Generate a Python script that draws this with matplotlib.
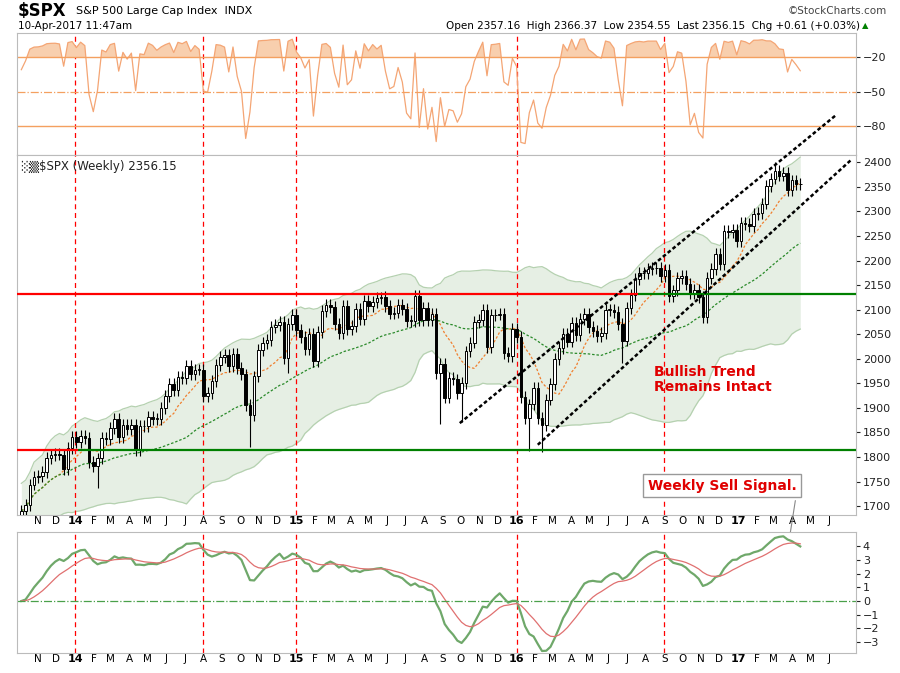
import numpy as np
import pandas as pd
import matplotlib.pyplot as plt
import matplotlib.dates as mdates
from matplotlib.lines import Line2D

# weekly closes of $SPX, Oct 2013 - Apr 2017
closes = [1690, 1703, 1744, 1759, 1761, 1770, 1798, 1804, 1806, 1805, 1775, 1818, 1841,
          1831, 1842, 1838, 1790, 1782, 1797, 1838, 1836, 1859, 1878, 1841, 1866, 1857,
          1865, 1815, 1864, 1863, 1881, 1878, 1878, 1900, 1924, 1949, 1936, 1963, 1961,
          1985, 1968, 1978, 1978, 1925, 1931, 1955, 1988, 2003, 2008, 1985, 2010, 1982,
          1968, 1906, 1886, 1964, 2018, 2032, 2039, 2064, 2068, 2075, 2002, 2071, 2089,
          2058, 2044, 2019, 2051, 1995, 2055, 2097, 2110, 2105, 2071, 2053, 2108, 2061,
          2067, 2102, 2081, 2117, 2108, 2116, 2123, 2126, 2107, 2092, 2094, 2110, 2101,
          2077, 2077, 2127, 2079, 2104, 2078, 2092, 1971, 1989, 1921, 1961, 1958, 1931,
          1951, 2015, 2033, 2075, 2079, 2099, 2023, 2089, 2090, 2092, 2012, 2005, 2061,
          2044, 1922, 1880, 1907, 1940, 1880, 1865, 1917, 1948, 1999, 2022, 2050, 2035,
          2073, 2048, 2081, 2092, 2065, 2057, 2047, 2052, 2099, 2099, 2096, 2071, 2037,
          2103, 2130, 2162, 2175, 2174, 2183, 2184, 2184, 2169, 2180, 2128, 2139, 2165,
          2168, 2153, 2133, 2141, 2126, 2085, 2164, 2182, 2213, 2192, 2260, 2258, 2263,
          2239, 2277, 2275, 2271, 2295, 2297, 2316, 2351, 2367, 2383, 2373, 2378, 2344,
          2363, 2355, 2356]
first_week = "2013-10-04"
wick = 12
# notable intraweek lows / highs
low_marks = {"2015-08-28": 1867, "2016-01-22": 1812, "2016-02-12": 1810, "2014-10-17": 1821,
             "2014-02-07": 1737, "2016-06-24": 1992, "2014-12-19": 1972, "2015-10-02": 1872}
high_marks = {"2017-03-03": 2401, "2015-05-22": 2135}

support = 1814
resistance = 2131
red_lines = ["2014-01-01", "2014-07-31", "2015-01-01", "2016-01-01", "2016-09-01"]
trend_lines = [(("2015-09-29", 1869), ("2017-06-12", 2496)),
               (("2016-02-05", 1825), ("2017-07-09", 2407))]

dates = pd.date_range(first_week, periods=len(closes), freq="7D")
c = pd.Series(closes, index=dates, dtype=float)
o = c.shift(1).fillna(c.iloc[0] - 15)
hi = np.maximum(o, c) + wick
lo = np.minimum(o, c) - wick
for d, v in low_marks.items():
    i = c.index.get_indexer([pd.Timestamp(d)], method="nearest")[0]
    lo.iloc[i] = v
for d, v in high_marks.items():
    i = c.index.get_indexer([pd.Timestamp(d)], method="nearest")[0]
    hi.iloc[i] = v

ma_fast = c.rolling(10, min_periods=1).mean()
ma_slow = c.rolling(40, min_periods=1).mean()
sd = c.rolling(40, min_periods=3).std().bfill()
bb_up = ma_slow + 2 * sd
bb_lo = ma_slow - 2 * sd

hh = hi.rolling(14, min_periods=1).max()
ll = lo.rolling(14, min_periods=1).min()
willr = (hh - c) / (hh - ll) * -100

ema12 = c.ewm(span=12, adjust=False).mean()
ema26 = c.ewm(span=26, adjust=False).mean()
ppo = (ema12 - ema26) / ema26 * 100 * 1.8
ppo_sig = ppo.ewm(span=9, adjust=False).mean()

fig = plt.figure(figsize=(9, 6.73), dpi=100)
L, W = 0.019, 0.932
ax_top = fig.add_axes([L, 0.7697, W, 0.181])
ax = fig.add_axes([L, 0.2348, W, 0.535], sharex=ax_top)
ax_bot = fig.add_axes([L, 0.030, W, 0.180], sharex=ax_top)

xmin, xmax = pd.Timestamp("2013-09-27"), pd.Timestamp("2017-07-15")
for a in (ax_top, ax, ax_bot):
    a.set_xlim(xmin, xmax)
    for s in a.spines.values():
        s.set_color("#bbbbbb")
    a.yaxis.tick_right()
    a.tick_params(axis="y", length=3, labelsize=8, colors="#222222", pad=2)
    a.tick_params(axis="x", length=0, pad=1)
    for d in red_lines:
        a.axvline(pd.Timestamp(d), color="red", lw=0.9, ls=(0, (4, 3)), zorder=1)

# top panel: Williams %R
ax_top.plot(dates, willr, color="#f4a574", lw=0.9)
ax_top.fill_between(dates, willr, -20, where=willr > -20, interpolate=True, color="#f8cfae", lw=0)
ax_top.axhline(-20, color="#f4a060", lw=1)
ax_top.axhline(-80, color="#f4a060", lw=1)
ax_top.axhline(-50, color="#f4a060", lw=0.9, ls="-.")
ax_top.set_ylim(-105, 1)
ax_top.set_yticks([-20, -50, -80])
ax_top.tick_params(axis="x", labelbottom=False)

# main panel
ax.fill_between(dates, bb_lo, bb_up, color="#e6efe4", lw=0, zorder=0)
ax.plot(dates, bb_up, color="#b5d1b0", lw=0.9, zorder=0.5)
ax.plot(dates, bb_lo, color="#b5d1b0", lw=0.9, zorder=0.5)
ax.plot(dates, ma_fast, color="#f08030", lw=0.9, ls=(0, (2, 1.5)), zorder=2)
ax.plot(dates, ma_slow, color="#2a8a2a", lw=0.9, ls=(0, (2, 1.5)), zorder=2)
bw = pd.Timedelta(days=4.2)
for d, op, cl, h, l in zip(dates, o, c, hi, lo):
    ax.vlines(d, l, h, color="black", lw=0.8, zorder=3)
    face = "white" if cl >= op else "black"
    ax.bar(d, abs(cl - op) or 1.5, bottom=min(op, cl), width=bw, color=face,
           edgecolor="black", lw=0.7, zorder=4)

switch = pd.Timestamp("2016-07-20")
ax.hlines(resistance, xmin, switch, color="red", lw=1.6, zorder=5)
ax.hlines(resistance, switch, xmax, color="green", lw=1.6, zorder=5)
ax.hlines(support, xmin, pd.Timestamp("2014-01-05"), color="red", lw=1.6, zorder=5)
ax.hlines(support, pd.Timestamp("2014-01-05"), xmax, color="green", lw=1.6, zorder=5)
for (d0, p0), (d1, p1) in trend_lines:
    ax.add_line(Line2D(mdates.date2num([pd.Timestamp(d0), pd.Timestamp(d1)]), [p0, p1],
                       color="black", lw=1.8, ls=(0, (1.5, 1)), clip_on=False, zorder=6))
ax.set_ylim(1682, 2415)
ax.set_yticks(range(1700, 2401, 50))
ax.text(0.005, 0.985, "\u2591\u2592$SPX (Weekly) 2356.15", transform=ax.transAxes,
        fontsize=8.5, va="top", color="#222222")
ax.text(mdates.date2num(pd.Timestamp("2016-08-15")), 1958, "Bullish Trend\nRemains Intact",
        color="#e00000", fontsize=10, fontweight="bold", va="center", linespacing=1.1)
ax.annotate("Weekly Sell Signal.", xy=(mdates.date2num(pd.Timestamp("2017-03-24")), 3.7),
            xycoords=ax_bot.transData,
            xytext=(mdates.date2num(pd.Timestamp("2016-08-05")), 1742),
            textcoords=ax.transData, color="#e00000", fontsize=10, fontweight="bold",
            va="center", bbox=dict(boxstyle="square,pad=0.35", fc="white", ec="#999999"),
            arrowprops=dict(arrowstyle="-", color="#888888", lw=0.8, relpos=(1, 0)), zorder=8)

# month labels
months = pd.date_range("2013-11-01", "2017-06-01", freq="MS")
labels = [f"{m.year % 100}" if m.month == 1 else "JFMAMJJASOND"[m.month - 1] for m in months]
for a in (ax, ax_bot):
    a.set_xticks(months)
    a.set_xticklabels(labels, fontsize=7.5)
    for t, m in zip(a.get_xticklabels(), months):
        if m.month == 1:
            t.set_fontweight("bold")
            t.set_fontsize(8)

# bottom panel: momentum oscillator
ax_bot.plot(dates, ppo, color="#6fa86a", lw=1.6)
ax_bot.plot(dates, ppo_sig, color="#e07070", lw=0.9)
ax_bot.axhline(0, color="#4aa04a", lw=0.9, ls="-.")
ax_bot.set_ylim(-3.77, 5.05)
ax_bot.set_yticks(range(-3, 5))

# header
fig.text(0.02, 0.983, "$SPX", fontsize=12, fontweight="bold", va="center")
fig.text(0.085, 0.983, "S&P 500 Large Cap Index  INDX", fontsize=8, va="center")
fig.text(0.02, 0.962, "10-Apr-2017 11:47am", fontsize=7.5, va="center")
fig.text(0.985, 0.983, "\u00a9StockCharts.com", fontsize=7.5, va="center", ha="right", color="#444444")
fig.text(0.955, 0.962, "Open 2357.16  High 2366.37  Low 2354.55  Last 2356.15  Chg +0.61 (+0.03%)",
         fontsize=7.5, va="center", ha="right")
fig.text(0.958, 0.962, "\u25b2", fontsize=6, va="center", color="green")

fig.savefig("out.png", dpi=100)
